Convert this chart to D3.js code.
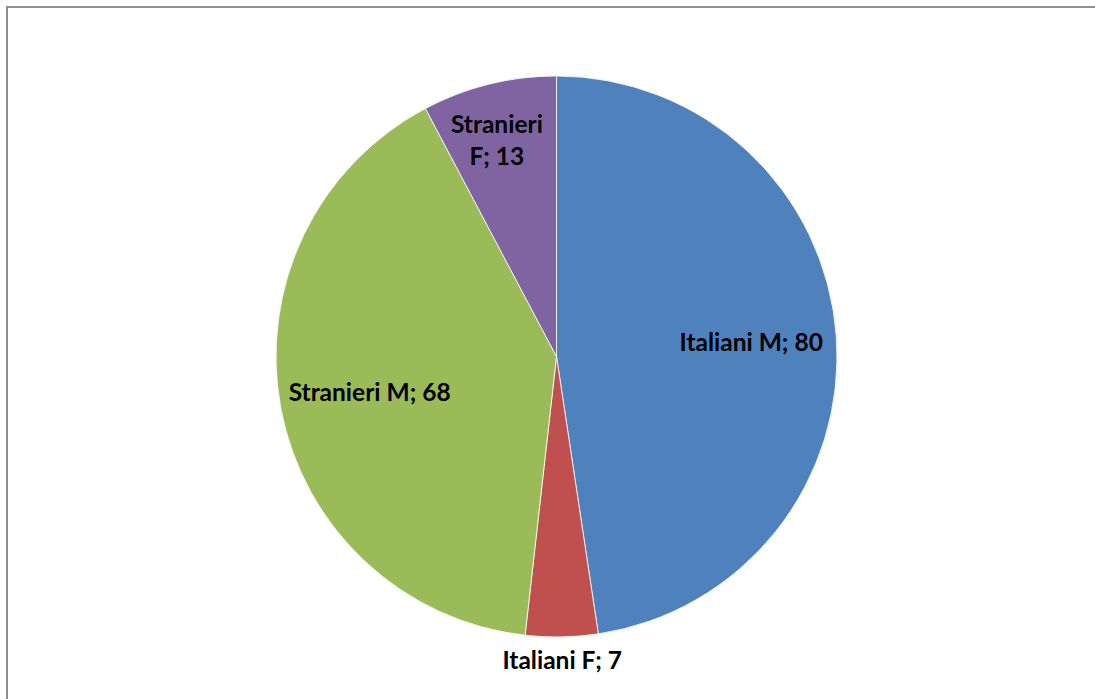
<!DOCTYPE html>
<html>
<head>
<meta charset="utf-8">
<script src="https://cdn.jsdelivr.net/npm/d3@7"></script>
<style>
  html, body { margin: 0; padding: 0; background: #fff; }
  svg { display: block; }
</style>
</head>
<body>
<svg id="chart" width="1095" height="699"></svg>
<script>
// Slice categories, in drawing order (clockwise from 12 o'clock)
const categories = ["Italiani M", "Italiani F", "Stranieri M", "Stranieri F"];
const values = [80, 7, 68, 13];
const colors = ["#4F81BD", "#C0504D", "#9BBB59", "#8064A2"];

const svg = d3.select("#chart");
const W = 1095, H = 699;

// chart area frame
svg.append("rect")
  .attr("x", 7).attr("y", 7)
  .attr("width", W + 10).attr("height", H + 10)
  .attr("fill", "#fff")
  .attr("stroke", "#8f8f8f")
  .attr("stroke-width", 2);

const cx = 556.5, cy = 356.5, R = 280.5;

const pie = d3.pie().sort(null).value(d => d.value);
const data = categories.map((c, i) => ({ name: c, value: values[i], color: colors[i] }));
const arcs = pie(data);

const arc = d3.arc().innerRadius(0).outerRadius(R);

const g = svg.append("g").attr("transform", `translate(${cx},${cy})`);

g.selectAll("path.slice")
  .data(arcs)
  .join("path")
  .attr("class", "slice")
  .attr("d", arc)
  .attr("fill", d => d.data.color)
  .attr("stroke", "#ffffff")
  .attr("stroke-width", 0.8);

// label placement: fraction of radius along the slice bisector, plus a small sideways nudge
const labelRadius = { "Italiani M": 0.696, "Italiani F": 1.084, "Stranieri M": 0.678, "Stranieri F": 0.794 };
const labelNudgeX = { "Stranieri F": -6 };
// slices whose label wraps onto two lines
const wrapAfter = { "Stranieri F": true };

const fontSize = 24.5;
const capHalf = fontSize * 0.358;
const lineGap = 32;

arcs.forEach(a => {
  const mid = (a.startAngle + a.endAngle) / 2;
  const r = R * labelRadius[a.data.name];
  const x = Math.sin(mid) * r + (labelNudgeX[a.data.name] || 0);
  const y = -Math.cos(mid) * r;
  const t = g.append("text")
    .attr("text-anchor", "middle")
    .attr("font-family", "Lato, 'Open Sans', sans-serif")
    .attr("font-weight", "bold")
    .attr("font-size", fontSize)
    .attr("fill", "#000");
  if (wrapAfter[a.data.name]) {
    const parts = a.data.name.split(" ");
    const lines = [parts[0], `${parts.slice(1).join(" ")}; ${a.data.value}`];
    lines.forEach((ln, i) => {
      t.append("tspan")
        .attr("x", x)
        .attr("y", y + capHalf + (i - (lines.length - 1) / 2) * lineGap)
        .text(ln);
    });
  } else {
    t.attr("x", x).attr("y", y + capHalf).text(`${a.data.name}; ${a.data.value}`);
  }
});
</script>
</body>
</html>
